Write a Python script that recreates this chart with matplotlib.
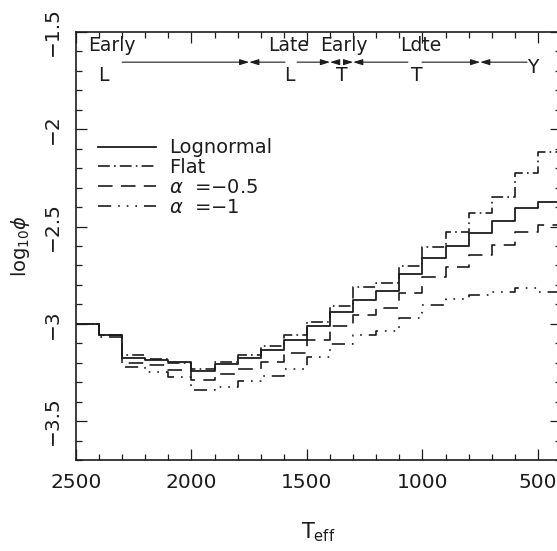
import matplotlib
matplotlib.use("Agg")
import matplotlib.pyplot as plt
import numpy as np
from matplotlib.ticker import MultipleLocator, FixedLocator

plt.rcParams['font.family'] = ['DejaVu Sans']
plt.rcParams['lines.scale_dashes'] = False
plt.rcParams['axes.unicode_minus'] = True

# ---------------- data ----------------
bin_edges = [2500, 2400, 2300, 2200, 2100, 2000, 1900, 1800, 1700, 1600, 1500,
             1400, 1300, 1200, 1100, 1000, 900, 800, 700, 600, 500, 400]

lognormal = [-3.00, -3.055, -3.178, -3.185, -3.197, -3.243, -3.205, -3.178, -3.135,
             -3.084, -3.012, -2.938, -2.878, -2.830, -2.744, -2.664, -2.599, -2.532,
             -2.472, -2.406, -2.372]
flat = [-3.00, -3.06, -3.16, -3.18, -3.20, -3.23, -3.195, -3.16, -3.114, -3.058,
        -2.990, -2.909, -2.809, -2.789, -2.703, -2.605, -2.527, -2.43, -2.347,
        -2.223, -2.118]
alpha_m05 = [-3.00, -3.055, -3.20, -3.21, -3.235, -3.289, -3.26, -3.234, -3.195,
             -3.149, -3.084, -3.012, -2.955, -2.921, -2.840, -2.761, -2.707, -2.647,
             -2.595, -2.527, -2.49]
alpha_m1 = [-3.00, -3.07, -3.224, -3.247, -3.272, -3.341, -3.323, -3.293, -3.269,
            -3.234, -3.169, -3.104, -3.058, -3.036, -2.972, -2.904, -2.873, -2.852,
            -2.835, -2.818, -2.835]

series_labels = ['Lognormal', 'Flat', r'$\alpha$  =−0.5', r'$\alpha$  =−1']

x_ticks = [2500, 2000, 1500, 1000, 500]
y_ticks = [-1.5, -2.0, -2.5, -3.0, -3.5]
y_tick_labels = ['−1.5', '−2', '−2.5', '−3', '−3.5']

# spectral class annotations
class_names = ['Early', 'Late', 'Early', 'Ldte']
class_name_x = [2346, 1580, 1342, 1006]
class_letters = ['L', 'L', 'T', 'T']
class_letter_x = [2383, 1575, 1350, 1025]

# ---------------- figure ----------------
ink = '#1c1c1c'
fig = plt.figure(figsize=(5.57, 5.51), dpi=100)
ax = fig.add_axes([76/557, (551-460)/551, (561-76)/557, (460-32)/551])

styles = [
    dict(linestyle='-', linewidth=1.3),
    dict(linestyle=(0, (8.5, 3.0, 1.2, 3.0)), linewidth=1.2),
    dict(linestyle=(0, (10.5, 6.0)), linewidth=1.2),
    dict(linestyle=(0, (9.5, 5.0, 1.2, 5.0, 1.2, 5.0, 1.2, 5.0)), linewidth=1.2),
]
all_series = [lognormal, flat, alpha_m05, alpha_m1]
for vals, lab, st in zip(all_series, series_labels, styles):
    yv = list(vals) + [vals[-1]]
    ax.step(bin_edges, yv, where='post', color=ink, label=lab, **st)

ax.set_xlim(2500, 400)
ax.set_ylim(-3.7, -1.5)

ax.xaxis.set_major_locator(FixedLocator(x_ticks))
ax.xaxis.set_minor_locator(MultipleLocator(100))
ax.set_yticks(y_ticks)
ax.set_yticklabels(y_tick_labels, rotation=90, va='center')
ax.yaxis.set_minor_locator(MultipleLocator(0.1))
ax.set_xticklabels([str(t) for t in x_ticks])

ax.tick_params(which='both', direction='in', top=True, right=True, colors=ink,
               labelsize=14.5, width=0.9)
ax.tick_params(which='major', length=8)
ax.tick_params(which='minor', length=4.3)
ax.tick_params(axis='x', which='major', pad=9)
ax.tick_params(axis='y', which='major', pad=10)
for sp in ax.spines.values():
    sp.set_linewidth(1.2)
    sp.set_color(ink)

ax.set_xlabel(r'T$_{\rm eff}$', fontsize=15, color=ink, labelpad=21)
ax.set_ylabel(r'log$_{10}\phi$', fontsize=14, color=ink, labelpad=8)

leg = ax.legend(loc='upper left', bbox_to_anchor=(0.0454, 0.7515), frameon=False,
                fontsize=14, handlelength=3.0, handletextpad=0.65,
                labelspacing=0.04, borderpad=0, borderaxespad=0)
for t in leg.get_texts():
    t.set_color(ink)

# annotations
row1 = -1.567
row_arrow = -1.655
row2 = -1.722
for name, xx in zip(class_names, class_name_x):
    ax.text(xx, row1, name, ha='center', va='center', fontsize=13.5, color=ink)
for name, xx in zip(class_letters, class_letter_x):
    ax.text(xx, row2, name, ha='center', va='center', fontsize=13.5, color=ink)
ax.text(522, row_arrow - 0.025, 'Y', ha='center', va='center', fontsize=13.5, color=ink)

arrow_segments = [(2300, 1750), (1595, 1750), (1543, 1400), (1372, 1400), (1328, 1300),
                  (1063, 1300), (1002, 750), (547, 750)]
for start, end in arrow_segments:
    ax.annotate('', xy=(end, row_arrow), xytext=(start, row_arrow),
                arrowprops=dict(arrowstyle='-|>,head_length=0.7,head_width=0.22',
                                mutation_scale=8, color=ink, lw=0.8,
                                shrinkA=0, shrinkB=0))

fig.savefig('out.png', dpi=100)
